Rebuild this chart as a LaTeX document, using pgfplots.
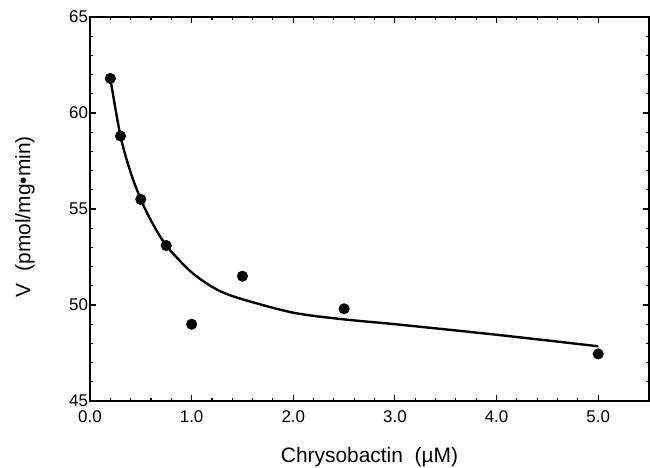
\documentclass[border=0pt]{standalone}
\usepackage{fontspec}
\setmainfont{Liberation Sans}
\usepackage{pgfplots}
\pgfplotsset{compat=1.18}

\begin{document}
\begin{tikzpicture}
  \begin{axis}[
      name=ax,
      scale only axis,
      width=559bp, height=384bp,
      xmin=0, xmax=5.5, ymin=45, ymax=65,
      xtick={0,1,2,3,4,5},
      minor x tick num=4,
      ytick={45,50,55,60,65},
      minor y tick num=4,
      tick align=inside,
      major tick length=6bp,
      minor tick length=3.5bp,
      axis line style={black,line width=1.9pt},
      every tick/.style={black,line width=1.1pt},
      /pgf/number format/assume math mode=true,
      tick label style={font=\fontsize{17}{20}\selectfont},
      x tick label style={/pgf/number format/fixed,/pgf/number format/fixed zerofill,
                          /pgf/number format/precision=1,yshift=-6bp},
      y tick label style={xshift=1.5bp},
      xlabel={Chrysobactin\ \ (µM)},
      ylabel={V\ \ (pmol/mg\textbullet min)},
      label style={font=\fontsize{21}{24}\selectfont},
      xlabel style={at={(axis description cs:0.5,0)},anchor=base,yshift=-61bp},
      ylabel style={at={(axis description cs:0,0.48)},anchor=center,yshift=65bp},
    ]
    % fitted curve
    \addplot[black,line width=2.4pt,smooth,tension=0.5] coordinates {
      (0.2,61.8)(0.3,58.8)(0.4,56.9)(0.5,55.5)(0.6,54.4)(0.75,53.1)
      (1.0,51.7)(1.25,50.8)(1.5,50.3)(2.0,49.6)(2.5,49.25)(3.0,49.0)
      (4.0,48.45)(5.0,47.85)};
    % measured points
    \addplot[only marks,mark=*,mark size=5.3bp,mark options={fill=black,draw=black}]
      coordinates {(0.2,61.8)(0.3,58.8)(0.5,55.5)(0.75,53.1)(1.0,49.0)
                   (1.5,51.5)(2.5,49.8)(5.0,47.45)};
  \end{axis}
  \pgfresetboundingbox
  \path ([shift={(-90bp,-67bp)}]ax.south west) rectangle ([shift={(1bp,17bp)}]ax.north east);
\end{tikzpicture}
\end{document}
